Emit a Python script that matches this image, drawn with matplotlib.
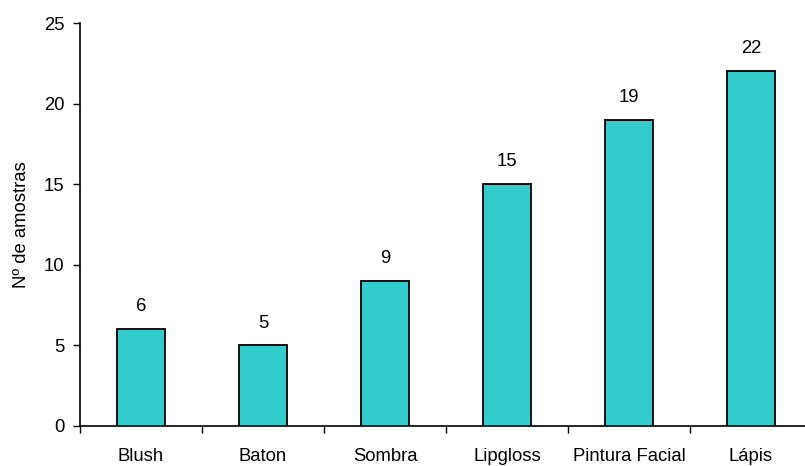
import matplotlib.pyplot as plt

plt.rcParams['font.family'] = ['Liberation Sans', 'DejaVu Sans']

categories = ['Blush', 'Baton', 'Sombra', 'Lipgloss', 'Pintura Facial', 'Lápis']
amostras = [6, 5, 9, 15, 19, 22]
y_ticks = [0, 5, 10, 15, 20, 25]

FS = 13.3

W, H = 805, 466
fig = plt.figure(figsize=(W / 100, H / 100), dpi=100)
ax = fig.add_axes([80 / W, 40 / H, 732 / W, 403 / H])

x = list(range(len(categories)))
ax.bar(x, amostras, width=0.4, color='#33CCCC', edgecolor='black', linewidth=1.3, zorder=3)

for xi, v in zip(x, amostras):
    ax.annotate(str(v), (xi, v), xytext=(0, 10), textcoords='offset points',
                ha='center', va='bottom', fontsize=FS, color='black')

ax.set_xlim(-0.5, 5.5)
ax.set_ylim(0, 25)
ax.set_yticks(y_ticks)
ax.set_xticks([i + 0.5 for i in range(-1, 6)])
ax.set_xticklabels([])
ax.set_xticks(x, minor=True)
ax.set_xticklabels(categories, minor=True)
ax.tick_params(axis='x', which='minor', length=0, pad=16, labelsize=FS)
ax.tick_params(axis='x', which='major', length=5, direction='out', width=1)
ax.tick_params(axis='y', length=5, direction='out', width=1, pad=6, labelsize=FS)

for s in ['top', 'right']:
    ax.spines[s].set_visible(False)
ax.spines['left'].set_linewidth(1.2)
ax.spines['bottom'].set_linewidth(1.2)

ax.set_ylabel('Nº de amostras', fontsize=FS, labelpad=10)

fig.savefig('out.png', dpi=100)
